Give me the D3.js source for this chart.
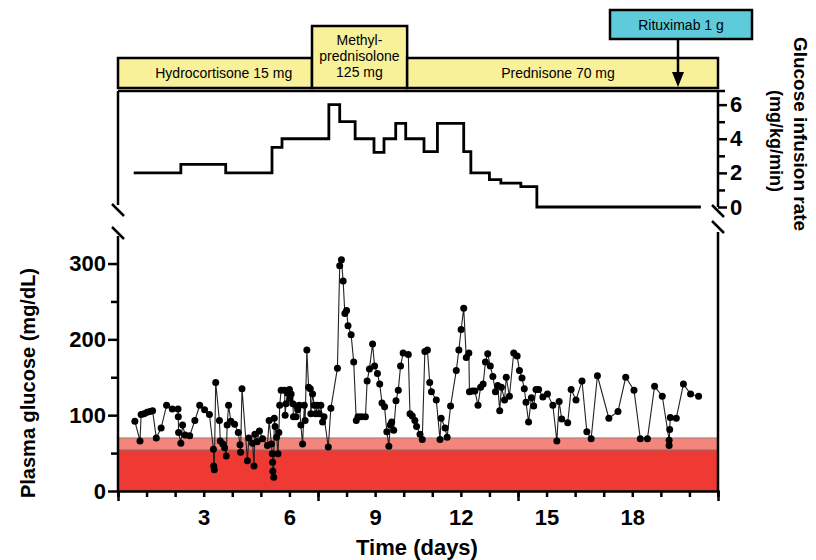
<!DOCTYPE html>
<html>
<head>
<meta charset="utf-8">
<script src="https://cdn.jsdelivr.net/npm/d3@7"></script>
<style>
  body { margin: 0; background: #fff; }
  svg { font-family: "Liberation Sans", Arial, sans-serif; }
  .tick text { font-weight: bold; font-size: 22px; fill: #000; }
</style>
</head>
<body>
<svg id="chart" width="816" height="560"></svg>
<script>
// glucose infusion rate, step function (day, mg/kg/min)
const infusionDays  = [0.55, 2.2, 3.77, 5.39, 5.74, 7.38, 7.76, 8.3, 8.96, 9.31, 9.72, 10.07, 10.71, 11.18, 12.1, 12.35, 13.0, 13.4, 14.1, 14.66, 20.4];
const infusionRates = [2, 2.5, 2, 3.5, 4, 6, 5, 4, 3.2, 4, 4.9, 4, 3.25, 4.9, 3.25, 2, 1.6, 1.4, 1.2, 0, 0];

// plasma glucose readings
const glucoseDays = [
  0.59, 0.77, 0.81, 0.91, 1.02, 1.12, 1.21, 1.34, 1.51, 1.70, 1.90, 2.10, 2.11, 2.12, 2.20, 2.26, 2.35, 2.51, 2.69, 2.86,
  3.03, 3.20, 3.34, 3.35, 3.37, 3.42, 3.55, 3.58, 3.67, 3.73, 3.79, 3.82, 3.87, 3.95, 4.08, 4.21, 4.27, 4.29, 4.34, 4.53,
  4.58, 4.71, 4.76, 4.79, 4.87, 4.95, 5.06, 5.23, 5.29, 5.37, 5.40, 5.41, 5.42, 5.45, 5.47, 5.50, 5.55, 5.60, 5.63, 5.66,
  5.71, 5.83, 5.85, 5.88, 5.94, 6.00, 6.02, 6.06, 6.12, 6.14, 6.23, 6.25, 6.29, 6.35, 6.40, 6.46, 6.52, 6.55, 6.61, 6.67,
  6.73, 6.75, 6.81, 6.87, 6.92, 6.98, 7.04, 7.10, 7.16, 7.21, 7.36, 7.45, 7.68, 7.76, 7.82, 7.88, 7.94, 8.00, 8.05, 8.16,
  8.25, 8.34, 8.40, 8.52, 8.66, 8.72, 8.80, 8.91, 8.98, 9.08, 9.16, 9.24, 9.33, 9.41, 9.48, 9.53, 9.58, 9.65, 9.73, 9.81,
  9.89, 9.98, 10.16, 10.22, 10.30, 10.39, 10.45, 10.57, 10.65, 10.74, 10.83, 10.91, 10.97, 11.14, 11.27, 11.31, 11.45, 11.52, 11.64, 11.84,
  11.93, 12.01, 12.10, 12.19, 12.28, 12.30, 12.40, 12.49, 12.60, 12.69, 12.78, 12.86, 12.94, 13.03, 13.12, 13.21, 13.29, 13.36, 13.42, 13.53,
  13.59, 13.70, 13.85, 13.97, 14.05, 14.14, 14.22, 14.28, 14.37, 14.47, 14.55, 14.63, 14.72, 14.87, 15.03, 15.22, 15.36, 15.44, 15.53, 15.74,
  15.86, 16.03, 16.24, 16.41, 16.56, 16.78, 17.18, 17.50, 17.77, 18.06, 18.28, 18.53, 18.78, 19.05, 19.29, 19.29, 19.31, 19.33, 19.54, 19.79,
  20.04, 20.32
];
const glucoseValues = [
  92, 66, 101, 102, 104, 105, 106, 70, 83, 113, 108, 108, 98, 77, 63, 87, 74, 73, 93, 113,
  107, 101, 55, 33, 28, 143, 93, 66, 62, 57, 46, 87, 113, 92, 88, 77, 61, 51, 135, 40,
  70, 63, 33, 75, 65, 79, 69, 60, 93, 62, 49, 38, 26, 18, 96, 85, 71, 49, 77, 113,
  133, 133, 100, 115, 129, 134, 122, 128, 115, 98, 98, 112, 107, 113, 87, 62, 113, 93, 186, 137,
  135, 102, 128, 113, 102, 113, 102, 113, 91, 98, 58, 109, 162, 297, 305, 277, 234, 238, 218, 206,
  170, 93, 98, 98, 98, 145, 161, 194, 165, 155, 141, 116, 111, 78, 59, 87, 91, 80, 119, 133,
  165, 182, 180, 102, 99, 93, 85, 75, 68, 184, 186, 143, 131, 120, 68, 96, 83, 71, 112, 159,
  186, 213, 241, 176, 182, 131, 132, 132, 113, 137, 141, 170, 181, 165, 151, 131, 139, 106, 137, 120,
  150, 125, 182, 178, 159, 149, 135, 117, 91, 123, 112, 134, 134, 124, 128, 113, 66, 118, 95, 90,
  134, 120, 145, 78, 69, 152, 96, 105, 150, 133, 69, 69, 138, 125, 67, 60, 81, 97, 96, 141,
  128, 125
];

// hypoglycaemia bands (mg/dL)
const hypoLevel2 = 54;
const hypoLevel1 = 70;

// treatments, in days (labelAt = where the label sits)
const steroids = [
  { label: ["Hydrocortisone 15 mg"], start: 0, end: 6.79, labelAt: 3.7 },
  { label: ["Methyl-", "prednisolone", "125 mg"], start: 6.79, end: 10.12, labelAt: 8.45 },
  { label: ["Prednisone 70 mg"], start: 10.12, end: 21, labelAt: 15.4 }
];
const rituximabDay = 19.6;
const rituximabLabel = "Rituximab 1 g";

const xTicks = [3, 6, 9, 12, 15, 18];
const glucoseTicks = [0, 100, 200, 300];
const rateTicks = [0, 2, 4, 6];

const svg = d3.select("#chart");

const x = d3.scaleLinear().domain([0, 21]).range([118, 718]);
const yG = d3.scaleLinear().domain([0, 335]).range([491, 237]);
const yR = d3.scaleLinear().domain([0, 6.8]).range([207, 91]);

// --- hypoglycaemia bands
svg.append("rect")
  .attr("x", x(0)).attr("width", x(21) - x(0))
  .attr("y", yG(hypoLevel1)).attr("height", yG(hypoLevel2) - yG(hypoLevel1))
  .attr("fill", "#f3857c").attr("stroke", "#777").attr("stroke-width", 0.8);
svg.append("rect")
  .attr("x", x(0)).attr("width", x(21) - x(0))
  .attr("y", yG(hypoLevel2)).attr("height", yG(0) - yG(hypoLevel2))
  .attr("fill", "#ee3a33").attr("stroke", "#777").attr("stroke-width", 0.8);

// --- glucose trace
const pts = glucoseDays.map((d, i) => [d, glucoseValues[i]]);
svg.append("path")
  .datum(pts)
  .attr("fill", "none")
  .attr("stroke", "#222")
  .attr("stroke-width", 1.1)
  .attr("d", d3.line().x(d => x(d[0])).y(d => yG(d[1])));
svg.selectAll("circle.g")
  .data(pts)
  .enter().append("circle")
  .attr("class", "g")
  .attr("cx", d => x(d[0]))
  .attr("cy", d => yG(d[1]))
  .attr("r", 3.5)
  .attr("fill", "#000");

// right border of lower panel
svg.append("line")
  .attr("x1", x(21)).attr("x2", x(21))
  .attr("y1", 232).attr("y2", yG(0))
  .attr("stroke", "#000").attr("stroke-width", 2.5);

// --- lower axes
const gx = svg.append("g").attr("transform", `translate(0,${yG(0)})`);
gx.call(d3.axisBottom(x).tickValues(d3.range(0, 22)).tickSize(6).tickFormat(""));
gx.append("g").call(d3.axisBottom(x).tickValues([0, 7, 14, 21]).tickSize(10).tickFormat(""));
gx.append("g").call(d3.axisBottom(x).tickValues(xTicks).tickSize(0).tickPadding(18).tickFormat(d3.format("d")));
gx.selectAll("path, line").attr("stroke", "#000").attr("stroke-width", 2.5);
gx.selectAll("g > g path").remove();

const gy = svg.append("g").attr("transform", `translate(${x(0)},0)`);
gy.call(d3.axisLeft(yG).tickValues([50, 150, 250]).tickSize(7).tickFormat(""));
gy.append("g").call(d3.axisLeft(yG).tickValues(glucoseTicks).tickSize(10).tickPadding(2));
gy.selectAll("path, line").attr("stroke", "#000").attr("stroke-width", 2.5);
gy.select("path").attr("d", `M0,${yG(0)}V236`);
gy.selectAll("g > g path").remove();

// --- upper panel: infusion rate step line
svg.append("path")
  .datum(infusionDays.map((d, i) => [d, infusionRates[i]]))
  .attr("fill", "none")
  .attr("stroke", "#000")
  .attr("stroke-width", 2.8)
  .attr("d", d3.line().curve(d3.curveStepAfter).x(d => x(d[0])).y(d => yR(d[1])));

// frame: top line and left line
svg.append("line")
  .attr("x1", x(0)).attr("x2", x(21) + 7)
  .attr("y1", yR.range()[1]).attr("y2", yR.range()[1])
  .attr("stroke", "#000").attr("stroke-width", 2.5);
svg.append("line")
  .attr("x1", x(0)).attr("x2", x(0))
  .attr("y1", yR.range()[1]).attr("y2", 205)
  .attr("stroke", "#000").attr("stroke-width", 2.5);

const gr = svg.append("g").attr("transform", `translate(${x(21)},0)`);
gr.call(d3.axisRight(yR).tickValues([1, 3, 5]).tickSize(7).tickFormat(""));
gr.append("g").call(d3.axisRight(yR).tickValues(rateTicks).tickSize(9).tickPadding(3).tickFormat(d3.format("d")));
gr.selectAll("path, line").attr("stroke", "#000").attr("stroke-width", 2.5);
gr.select("path").attr("d", `M0,${yR.range()[1]}V${yR(0)}`);
gr.selectAll("g > g path").remove();

// axis breaks
[[x(0), 210], [x(0), 233], [x(21), 211], [x(21), 227]].forEach(([bx, by]) => {
  svg.append("line")
    .attr("x1", bx - 6).attr("y1", by - 6)
    .attr("x2", bx + 6).attr("y2", by + 6)
    .attr("stroke", "#000").attr("stroke-width", 2.5);
});

// --- treatment boxes
const boxes = svg.append("g");
steroids.forEach(s => {
  const tall = s.label.length > 1;
  const top = tall ? 26 : 58;
  boxes.append("rect")
    .attr("x", x(s.start)).attr("y", top)
    .attr("width", x(s.end) - x(s.start)).attr("height", 88 - top)
    .attr("fill", "#f8f19a").attr("stroke", "#000").attr("stroke-width", 2.5);
  const t = boxes.append("text")
    .attr("text-anchor", "middle")
    .attr("font-size", 14);
  s.label.forEach((line, i) => {
    t.append("tspan")
      .attr("x", x(s.labelAt))
      .attr("y", tall ? 45 + i * 16 : 78)
      .text(line);
  });
});

// rituximab box + arrow
boxes.append("rect")
  .attr("x", 610).attr("y", 10).attr("width", 142).attr("height", 29)
  .attr("fill", "#5ecbda").attr("stroke", "#000").attr("stroke-width", 2.5);
boxes.append("text")
  .attr("x", 681).attr("y", 30)
  .attr("text-anchor", "middle").attr("font-size", 14)
  .text(rituximabLabel);
boxes.append("line")
  .attr("x1", x(rituximabDay)).attr("x2", x(rituximabDay))
  .attr("y1", 39).attr("y2", 74)
  .attr("stroke", "#000").attr("stroke-width", 2.5);
boxes.append("path")
  .attr("d", `M${x(rituximabDay) - 6},72 L${x(rituximabDay) + 6},72 L${x(rituximabDay)},87 Z`)
  .attr("fill", "#000");

// --- axis titles
svg.append("text")
  .attr("transform", "translate(35,383) rotate(-90)")
  .attr("text-anchor", "middle")
  .attr("font-size", 20).attr("font-weight", "bold")
  .text("Plasma glucose (mg/dL)");
svg.append("text")
  .attr("x", 417).attr("y", 555)
  .attr("text-anchor", "middle")
  .attr("font-size", 22).attr("font-weight", "bold")
  .text("Time (days)");
svg.append("text")
  .attr("transform", "translate(794,134) rotate(90)")
  .attr("text-anchor", "middle")
  .attr("font-size", 19).attr("font-weight", "bold")
  .text("Glucose infusion rate");
svg.append("text")
  .attr("transform", "translate(770,141) rotate(90)")
  .attr("text-anchor", "middle")
  .attr("font-size", 18).attr("font-weight", "bold")
  .text("(mg/kg/min)");
</script>
</body>
</html>
